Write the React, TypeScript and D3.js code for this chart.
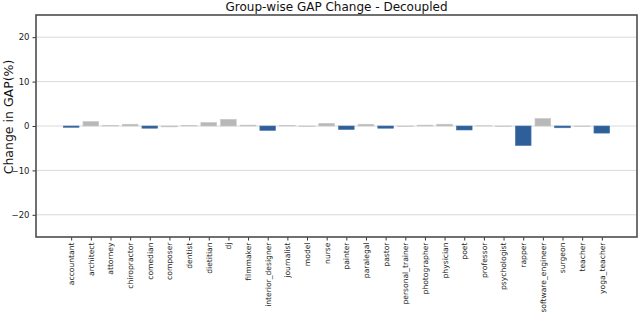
import { useEffect, useRef } from "react";
import * as d3 from "d3";

const categories = [
  "accountant", "architect", "attorney", "chiropractor", "comedian", "composer",
  "dentist", "dietitian", "dj", "filmmaker", "interior_designer", "journalist",
  "model", "nurse", "painter", "paralegal", "pastor", "personal_trainer",
  "photographer", "physician", "poet", "professor", "psychologist", "rapper",
  "software_engineer", "surgeon", "teacher", "yoga_teacher",
];
const gapChange = [
  -0.3, 1.0, 0.1, 0.4, -0.5, -0.2,
  0.1, 0.8, 1.5, 0.2, -1.0, 0.1,
  -0.1, 0.6, -0.8, 0.4, -0.5, -0.1,
  0.2, 0.4, -0.9, 0.05, -0.1, -4.4,
  1.7, -0.4, -0.1, -1.6,
];
const yTicks = [-20, -10, 0, 10, 20];

function App() {
  const ref = useRef<SVGSVGElement>(null);

  useEffect(() => {
    const width = 640;
    const height = 312;
    const m = { top: 15, right: 3, bottom: 75, left: 36 };
    const svg = d3.select(ref.current);
    svg.selectAll("*").remove();

    const n = categories.length;
    const pad = 0.05 * (n - 1 + 0.8);
    const x = d3.scaleLinear()
      .domain([-0.4 - pad, n - 1 + 0.4 + pad])
      .range([m.left, width - m.right]);
    const y = d3.scaleLinear().domain([-25, 25]).range([height - m.bottom, m.top]);

    // grid
    svg.append("g")
      .selectAll("line")
      .data(yTicks)
      .enter()
      .append("line")
      .attr("x1", m.left)
      .attr("x2", width - m.right)
      .attr("y1", d => y(d))
      .attr("y2", d => y(d))
      .attr("stroke", "#d9d9d9")
      .attr("stroke-width", 1);

    const data = categories.map((c, i) => ({ c, i, v: gapChange[i] }));
    svg.append("g")
      .selectAll("rect")
      .data(data)
      .enter()
      .append("rect")
      .attr("x", d => x(d.i - 0.4))
      .attr("width", x(0.8) - x(0))
      .attr("y", d => y(Math.max(0, d.v)))
      .attr("height", d => Math.abs(y(d.v) - y(0)))
      .attr("fill", d => (d.v < -0.25 ? "#2f5f98" : "#b8b8b8"))
      .attr("stroke", d => (d.v < -0.25 ? "#4a78b0" : "#c8c8c8"))
      .attr("stroke-width", 0.6);

    // y axis
    const ya = svg.append("g").attr("transform", `translate(${m.left},0)`)
      .call(d3.axisLeft(y).tickValues(yTicks).tickSize(3.5).tickFormat(d => d3.format("d")(d as number).replace("-", "\u2212")));
    ya.select(".domain").remove();
    ya.selectAll("text").attr("font-family", "DejaVu Sans").attr("font-size", 8.5).attr("fill", "#222");
    ya.selectAll("line").attr("stroke", "#333");

    // x axis
    const xa = svg.append("g").attr("transform", `translate(0,${height - m.bottom})`)
      .call(d3.axisBottom(x).tickValues(d3.range(n)).tickSize(3.5).tickFormat(i => categories[i as number]));
    xa.select(".domain").remove();
    xa.selectAll("line").attr("stroke", "#333");
    xa.selectAll("text")
      .attr("font-family", "DejaVu Sans")
      .attr("font-size", 7.6)
      .attr("fill", "#222")
      .attr("text-anchor", "end")
      .attr("transform", "rotate(-90)")
      .attr("x", -5.5)
      .attr("y", 0)
      .attr("dy", "0.32em");

    // frame
    svg.append("rect")
      .attr("x", m.left)
      .attr("y", m.top)
      .attr("width", width - m.left - m.right)
      .attr("height", height - m.top - m.bottom)
      .attr("fill", "none")
      .attr("stroke", "#4d4d4d")
      .attr("stroke-width", 1.6);

    svg.append("text")
      .attr("x", (m.left + width - m.right) / 2)
      .attr("y", 11)
      .attr("text-anchor", "middle")
      .attr("font-family", "DejaVu Sans")
      .attr("font-size", 12)
      .attr("fill", "#111")
      .text("Group-wise GAP Change - Decoupled");

    svg.append("text")
      .attr("transform", `translate(13,${y(0) - 9}) rotate(-90)`)
      .attr("text-anchor", "middle")
      .attr("font-family", "DejaVu Sans")
      .attr("font-size", 12.5)
      .attr("fill", "#111")
      .text("Change in GAP(%)");
  }, []);

  return (
    <svg ref={ref} width={640} height={312}
      style={{ position: "absolute", left: 0, top: 0, background: "#fff" }} />
  );
}

export default App;
